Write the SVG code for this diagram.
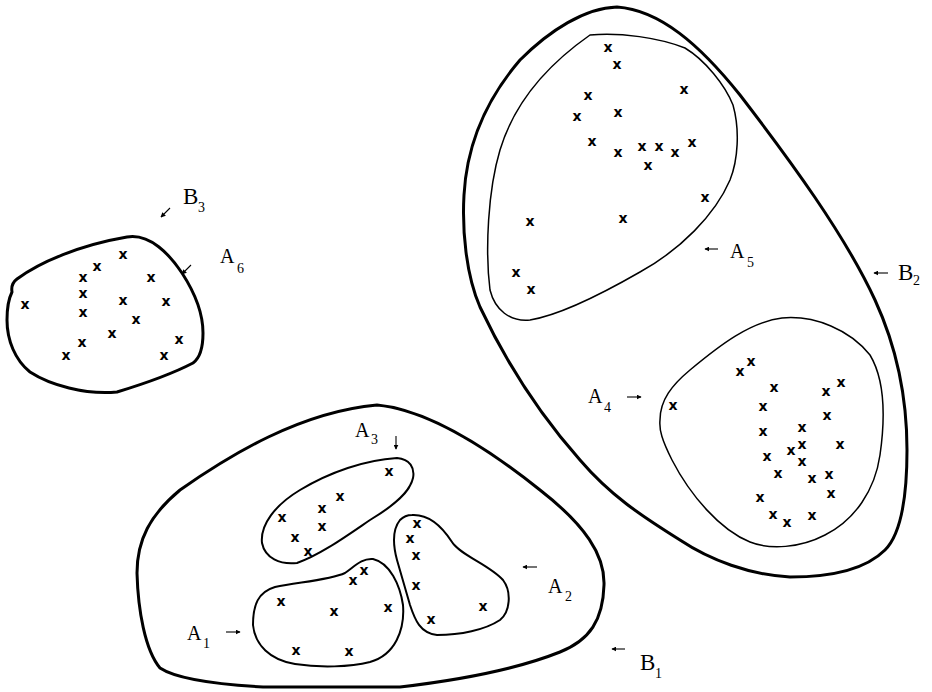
<svg xmlns="http://www.w3.org/2000/svg" width="932" height="692" viewBox="0 0 932 692">
<style>
.thick{fill:none;stroke:#000;stroke-width:3;stroke-linejoin:round}
.mid{fill:none;stroke:#000;stroke-width:2;stroke-linejoin:round}
.thin{fill:none;stroke:#000;stroke-width:1.5;stroke-linejoin:round}
.pt{font-family:"DejaVu Sans",sans-serif;font-weight:bold;font-size:14px;text-anchor:middle;fill:#000}
.la{font-family:"Liberation Serif","Times New Roman",serif;font-size:20px;fill:#000}
.lb{font-family:"Liberation Serif","Times New Roman",serif;font-size:23px;fill:#000}
.sub{font-size:14px}
.ar{stroke:#000;stroke-width:1.1;fill:none;marker-end:url(#ah)}
</style>
<defs>
<marker id="ah" viewBox="0 0 8 8" refX="7" refY="4" markerWidth="5" markerHeight="5" markerUnits="userSpaceOnUse" orient="auto">
<path d="M0,0 L8,4 L0,8 Z" fill="#000"/>
</marker>
</defs>
<rect width="932" height="692" fill="#fff"/>

<g id="B3">
<text class="lb" x="183" y="204">B<tspan class="sub" x="198" y="212">3</tspan></text>
</g>

<g id="A6">
<path class="thick" d="M12,292 C11,286 13,282 17,279 C40,262 80,245 127,237 C150,233 170,255 182,273 C195,293 203,315 203,333 C203,348 200,358 193,363 C170,375 140,385 117,392 C85,395 50,385 30,372 C15,360 7,340 7,320 C7,308 9,298 12,292 Z"/>
<g transform="translate(0,4)">
<text class="pt" x="123" y="255">x</text><text class="pt" x="97" y="267">x</text><text class="pt" x="83" y="278">x</text><text class="pt" x="151" y="278">x</text><text class="pt" x="25" y="305">x</text><text class="pt" x="83" y="294">x</text><text class="pt" x="123" y="301">x</text><text class="pt" x="166" y="302">x</text><text class="pt" x="83" y="313">x</text><text class="pt" x="136" y="320">x</text><text class="pt" x="112" y="334">x</text><text class="pt" x="179" y="340">x</text><text class="pt" x="82" y="343">x</text><text class="pt" x="66" y="356">x</text><text class="pt" x="164" y="356">x</text>
</g>
<text class="la" x="220" y="263">A<tspan class="sub" x="237" y="273">6</tspan></text>
</g>

<g id="B2">
<path class="thick" d="M617,7 C660,10 700,45 740,95 C790,160 845,235 875,300 C898,350 907,400 907,450 C907,500 900,535 885,550 C865,570 830,577 790,577 C750,575 710,560 680,540 C640,515 610,495 580,460 C540,415 505,360 480,307 C466,275 462,230 464,195 C467,140 490,95 520,60 C550,30 585,8 617,7 Z"/>
<text class="lb" x="898" y="280">B<tspan class="sub" x="913" y="285">2</tspan></text>
</g>

<g id="A5">
<path class="thin" d="M590,35 C620,32 660,38 685,48 C705,60 725,85 733,105 C740,130 738,160 730,180 C715,215 680,250 640,272 C600,295 560,315 530,320 C510,322 495,310 490,290 C485,250 488,190 500,150 C512,110 540,70 590,35 Z"/>
<g transform="translate(0,4)">
<text class="pt" x="608" y="48">x</text><text class="pt" x="617" y="65">x</text><text class="pt" x="588" y="96">x</text><text class="pt" x="684" y="90">x</text><text class="pt" x="577" y="117">x</text><text class="pt" x="618" y="113">x</text><text class="pt" x="592" y="142">x</text><text class="pt" x="618" y="153">x</text><text class="pt" x="642" y="147">x</text><text class="pt" x="659" y="147">x</text><text class="pt" x="675" y="153">x</text><text class="pt" x="692" y="143">x</text><text class="pt" x="648" y="166">x</text><text class="pt" x="705" y="198">x</text><text class="pt" x="530" y="222">x</text><text class="pt" x="623" y="219">x</text><text class="pt" x="516" y="273">x</text><text class="pt" x="531" y="290">x</text>
</g>
<text class="la" x="730" y="258">A<tspan class="sub" x="747" y="267">5</tspan></text>
</g>

<g id="A4">
<path class="thin" d="M660,420 C660,400 672,385 690,370 C720,345 750,322 782,318 C815,315 850,330 870,355 C885,380 885,420 880,455 C875,490 855,520 825,535 C800,548 770,550 750,542 C720,530 690,495 672,460 C662,440 659,430 660,420 Z"/>
<g transform="translate(0,4)">
<text class="pt" x="751" y="362">x</text><text class="pt" x="740" y="372">x</text><text class="pt" x="774" y="388">x</text><text class="pt" x="826" y="392">x</text><text class="pt" x="841" y="383">x</text><text class="pt" x="673" y="406">x</text><text class="pt" x="763" y="407">x</text><text class="pt" x="827" y="416">x</text><text class="pt" x="802" y="428">x</text><text class="pt" x="763" y="432">x</text><text class="pt" x="802" y="445">x</text><text class="pt" x="840" y="445">x</text><text class="pt" x="791" y="451">x</text><text class="pt" x="767" y="457">x</text><text class="pt" x="802" y="462">x</text><text class="pt" x="778" y="474">x</text><text class="pt" x="812" y="479">x</text><text class="pt" x="829" y="475">x</text><text class="pt" x="831" y="494">x</text><text class="pt" x="760" y="498">x</text><text class="pt" x="773" y="515">x</text><text class="pt" x="787" y="523">x</text><text class="pt" x="812" y="516">x</text>
</g>
<text class="la" x="588" y="403">A<tspan class="sub" x="604" y="412">4</tspan></text>
</g>

<g id="B1">
<path class="thick" d="M377,405 C430,410 490,450 540,490 C585,525 605,555 604,585 C603,620 590,640 560,652 C520,668 460,680 400,687 L263,687 C210,684 175,678 160,668 C145,650 138,610 137,573 C137,540 150,515 180,490 C230,455 300,412 377,405 Z"/>
<text class="lb" x="640" y="670">B<tspan class="sub" x="655" y="678">1</tspan></text>
</g>

<g id="A3">
<path class="mid" d="M397,458 C410,459 415,468 413,478 C410,492 395,505 370,520 C345,537 320,555 297,563 C280,565 265,558 262,543 C260,525 275,505 300,490 C330,472 365,460 397,458 Z"/>
<g transform="translate(0,4)">
<text class="pt" x="389" y="472">x</text><text class="pt" x="340" y="497">x</text><text class="pt" x="322" y="509">x</text><text class="pt" x="282" y="518">x</text><text class="pt" x="322" y="527">x</text><text class="pt" x="295" y="538">x</text><text class="pt" x="308" y="552">x</text>
</g>
<text class="la" x="355" y="437">A<tspan class="sub" x="371" y="444">3</tspan></text>
</g>

<g id="A2">
<path class="mid" d="M412,515 C430,514 443,528 452,542 C460,555 490,565 503,580 C512,592 510,612 500,620 C485,630 460,635 437,635 C420,633 415,620 410,605 L397,560 C393,545 392,530 400,520 C404,516 408,515 412,515 Z"/>
<g transform="translate(0,4)">
<text class="pt" x="417" y="524">x</text><text class="pt" x="410" y="539">x</text><text class="pt" x="416" y="556">x</text><text class="pt" x="416" y="586">x</text><text class="pt" x="483" y="607">x</text><text class="pt" x="431" y="620">x</text>
</g>
<text class="la" x="548" y="593">A<tspan class="sub" x="565" y="601">2</tspan></text>
</g>

<g id="A1">
<path class="mid" d="M373,559 C390,563 400,585 403,605 C405,630 395,655 370,662 C350,667 320,668 295,664 C270,660 255,645 253,625 C253,605 258,592 275,587 C300,582 330,580 345,573 C355,566 362,558 373,559 Z"/>
<g transform="translate(0,4)">
<text class="pt" x="364" y="571">x</text><text class="pt" x="353" y="581">x</text><text class="pt" x="281" y="602">x</text><text class="pt" x="334" y="612">x</text><text class="pt" x="388" y="608">x</text><text class="pt" x="296" y="651">x</text><text class="pt" x="349" y="652">x</text>
</g>
<text class="la" x="187" y="640">A<tspan class="sub" x="203" y="648">1</tspan></text>
</g>

<g id="connectors">
<line class="ar" x1="170" y1="208" x2="161" y2="217"/>
<line class="ar" x1="191" y1="265" x2="182" y2="274"/>
<line class="ar" x1="718" y1="249" x2="705" y2="249"/>
<line class="ar" x1="888" y1="273" x2="874" y2="273"/>
<line class="ar" x1="627" y1="397" x2="641" y2="397"/>
<line class="ar" x1="396" y1="436" x2="396" y2="449"/>
<line class="ar" x1="537" y1="567" x2="523" y2="567"/>
<line class="ar" x1="226" y1="632" x2="240" y2="632"/>
<line class="ar" x1="625" y1="649" x2="612" y2="649"/>
</g>
</svg>
